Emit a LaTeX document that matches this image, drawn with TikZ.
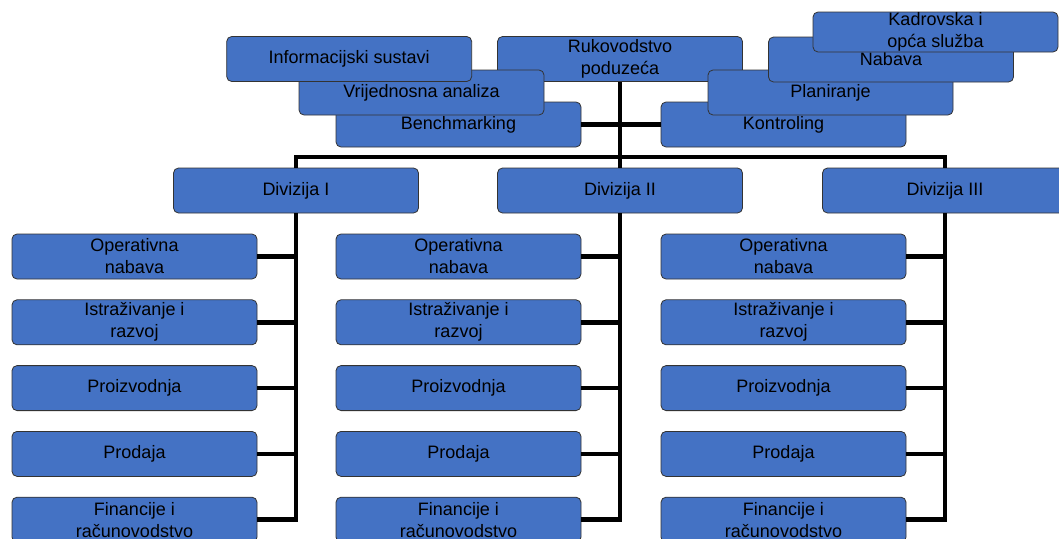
\documentclass[tikz,border=0pt]{standalone}
\usepackage{fontspec}
\setmainfont{Liberation Sans}
\usetikzlibrary{positioning}
\definecolor{orgblue}{HTML}{4472C4}

\begin{document}
\begin{tikzpicture}[x=1pt,y=-1pt]
	\tikzset{OrgBox/.style =
		{draw = black!80,
			fill = orgblue,
			rounded corners = 5pt,
			line width = 0.8pt,
			minimum width = 245pt,
			minimum height = 45pt,
			inner sep = 0pt,
			align = center,
			font = \fontsize{18}{22}\selectfont},
		OrgLine/.style = {line width = 4.5pt}}
	\useasboundingbox (0,0) rectangle (1059,538);
	% management and staff
	\node[OrgBox] (Ruk) at (620,59) {Rukovodstvo\\poduzeća};
	\node[OrgBox] (Bench) at (458.5,124.5) {Benchmarking};
	\node[OrgBox] (Vrij) at (421.5,92.5) {Vrijednosna analiza};
	\node[OrgBox, left=25pt of Ruk] (Info) {Informacijski sustavi};
	\node[OrgBox] (Kontr) at (783.5,124.5) {Kontroling};
	\node[OrgBox] (Plan) at (830.5,92.5) {Planiranje};
	\node[OrgBox] (Nab) at (891,59.5) {Nabava};
	\node[OrgBox, minimum height = 40pt] (Kadr) at (935.5,32) {Kadrovska i\\opća služba};
	% divisions
	\node[OrgBox] (Div1) at (296,190.5) {Divizija I};
	\node[OrgBox] (Div2) at (620,190.5) {Divizija II};
	\node[OrgBox] (Div3) at (945,190.5) {Divizija III};
	% functions
	\node[OrgBox] (Op1) at (134.5,256.5) {Operativna\\nabava};
	\node[OrgBox, below=20pt of Op1] (Ist1) {Istraživanje i\\razvoj};
	\node[OrgBox, below=20pt of Ist1] (Pro1) {Proizvodnja};
	\node[OrgBox, below=20pt of Pro1] (Prd1) {Prodaja};
	\node[OrgBox, below=20pt of Prd1] (Fin1) {Financije i\\računovodstvo};
	\node[OrgBox] (Op2) at (458.5,256.5) {Operativna\\nabava};
	\node[OrgBox, below=20pt of Op2] (Ist2) {Istraživanje i\\razvoj};
	\node[OrgBox, below=20pt of Ist2] (Pro2) {Proizvodnja};
	\node[OrgBox, below=20pt of Pro2] (Prd2) {Prodaja};
	\node[OrgBox, below=20pt of Prd2] (Fin2) {Financije i\\računovodstvo};
	\node[OrgBox] (Op3) at (783.5,256.5) {Operativna\\nabava};
	\node[OrgBox, below=20pt of Op3] (Ist3) {Istraživanje i\\razvoj};
	\node[OrgBox, below=20pt of Ist3] (Pro3) {Proizvodnja};
	\node[OrgBox, below=20pt of Pro3] (Prd3) {Prodaja};
	\node[OrgBox, below=20pt of Prd3] (Fin3) {Financije i\\računovodstvo};
	% connectors
	\coordinate (Bar) at (620,157);
	\draw[OrgLine] (Ruk.south) -- (Div2.north);
	\draw[OrgLine] (Bench.east) -- (Kontr.west);
	\draw[OrgLine] (Div1.north) |- (Bar) -| (Div3.north);
	\draw[OrgLine] (Div1.south) |- (Op1.east);
	\draw[OrgLine] (Div1.south) |- (Ist1.east);
	\draw[OrgLine] (Div1.south) |- (Pro1.east);
	\draw[OrgLine] (Div1.south) |- (Prd1.east);
	\draw[OrgLine] (Div1.south) |- (Fin1.east);
	\draw[OrgLine] (Div2.south) |- (Op2.east);
	\draw[OrgLine] (Div2.south) |- (Ist2.east);
	\draw[OrgLine] (Div2.south) |- (Pro2.east);
	\draw[OrgLine] (Div2.south) |- (Prd2.east);
	\draw[OrgLine] (Div2.south) |- (Fin2.east);
	\draw[OrgLine] (Div3.south) |- (Op3.east);
	\draw[OrgLine] (Div3.south) |- (Ist3.east);
	\draw[OrgLine] (Div3.south) |- (Pro3.east);
	\draw[OrgLine] (Div3.south) |- (Prd3.east);
	\draw[OrgLine] (Div3.south) |- (Fin3.east);
\end{tikzpicture}
\end{document}
